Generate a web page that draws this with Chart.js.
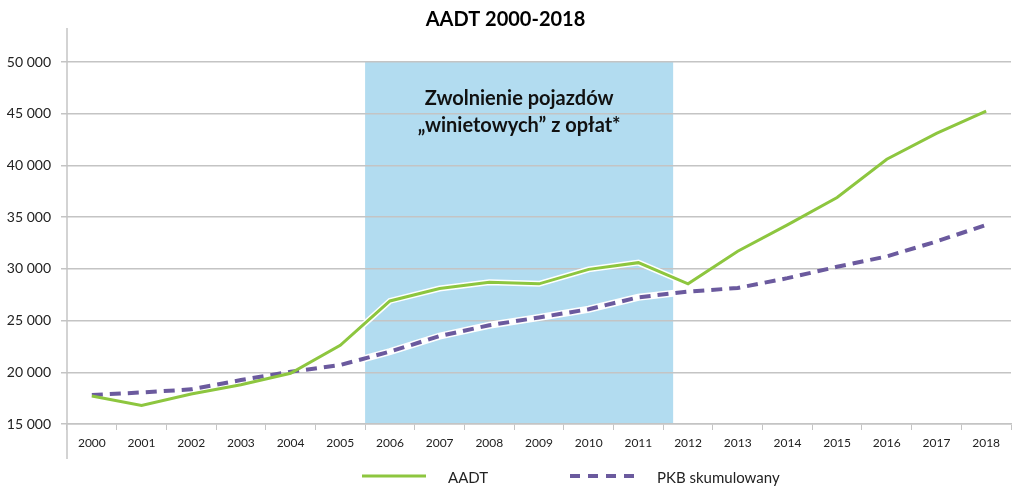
<!DOCTYPE html>
<html>
<head>
<meta charset="utf-8">
<script src="https://cdn.jsdelivr.net/npm/chart.js@4"></script>
<style>
  html, body { margin: 0; padding: 0; background: #fff; }
  #wrap { position: relative; width: 1023px; height: 497px; }
  #legend { position: absolute; left: 0; top: 465px; width: 1023px; height: 24px; font-family: Lato, "Open Sans", sans-serif; font-size: 15px; color: #222; }
  .lg { position: absolute; top: 0; height: 24px; line-height: 24px; white-space: nowrap; }
  .lg svg { position: absolute; top: 0; }
</style>
</head>
<body>
<div id="wrap">
  <canvas id="c" width="1023" height="497"></canvas>
  <div id="legend"></div>
</div>
<script>
// ---- data ----
const years = ['2000','2001','2002','2003','2004','2005','2006','2007','2008','2009','2010','2011','2012','2013','2014','2015','2016','2017','2018'];
const aadt = [17700, 16800, 17900, 18800, 19900, 22600, 26900, 28100, 28700, 28550, 29950, 30600, 28550, 31700, 34250, 36900, 40600, 43100, 45250];
const pkb = [17800, 18050, 18350, 19250, 20050, 20700, 22000, 23500, 24550, 25300, 26100, 27250, 27800, 28150, 29100, 30200, 31200, 32650, 34250];
const yTicks = [15000, 20000, 25000, 30000, 35000, 40000, 45000, 50000];
const titleText = 'AADT 2000-2018';
const seriesNames = ['AADT', 'PKB skumulowany'];
const bandLines = ['Zwolnienie pojazdów', '\u201Ewinietowych\u201D z opłat*'];
const bandFrom = 5.5;   // category index (2006 left edge)
const bandTo = 11.7;    // category index (just past 2011)

// ---- styles ----
const GREEN = '#8dc63f';
const PURPLE = '#6b5a9e';
const BAND = '#b2dcf0';
const GRID = '#c4c4c4';
const TEXT = '#222';
const FONT = 'Lato, "Open Sans", sans-serif';
const DASH = [11, 7];

function fmt(v) {
  return String(v).replace(/\B(?=(\d{3})+(?!\d))/g, ' ');
}
function inBand(ctx) {
  return ctx.p0DataIndex >= 5 && ctx.p1DataIndex <= 12;
}

const bandPlugin = {
  id: 'band',
  beforeDraw(chart) {
    const {ctx, scales: {x, y}} = chart;
    const l = x.getPixelForValue(bandFrom);
    const r = x.getPixelForValue(bandTo);
    const t = y.getPixelForValue(yTicks[yTicks.length - 1]);
    const b = y.getPixelForValue(yTicks[0]);
    ctx.save();
    ctx.fillStyle = BAND;
    ctx.fillRect(l, t, r - l, b - t);
    ctx.restore();
  },
  beforeDatasetsDraw(chart) {
    const {ctx, scales: {x, y}} = chart;
    const cx = (x.getPixelForValue(bandFrom) + x.getPixelForValue(bandTo)) / 2;
    const t = y.getPixelForValue(yTicks[yTicks.length - 1]);
    ctx.save();
    ctx.fillStyle = '#111';
    ctx.font = 'bold 20px ' + FONT;
    ctx.textAlign = 'center';
    ctx.textBaseline = 'middle';
    bandLines.forEach((s, i) => ctx.fillText(s, cx, t + 37 + i * 27));
    ctx.restore();
  },
  afterDraw(chart) {
    const {ctx, chartArea} = chart;
    ctx.save();
    ctx.strokeStyle = GRID;
    ctx.lineWidth = 1.5;
    ctx.beginPath();
    ctx.moveTo(chartArea.left, 28);
    ctx.lineTo(chartArea.left, 459);
    ctx.stroke();
    ctx.restore();
  }
};

new Chart(document.getElementById('c'), {
  type: 'line',
  data: {
    labels: years,
    datasets: [
      { label: seriesNames[0], data: aadt, borderColor: GREEN, borderWidth: 3, pointRadius: 0, tension: 0, order: 0 },
      { label: seriesNames[1], data: pkb, borderColor: PURPLE, borderWidth: 4, borderDash: DASH, pointRadius: 0, tension: 0, order: 1 },
      { label: 'halo1', data: aadt, borderWidth: 6, pointRadius: 0, order: 2,
        segment: { borderColor: c => inBand(c) ? '#ffffff' : 'rgba(0,0,0,0)' } },
      { label: 'halo2', data: pkb, borderWidth: 7, pointRadius: 0, order: 3,
        segment: { borderColor: c => inBand(c) ? '#ffffff' : 'rgba(0,0,0,0)' } }
    ]
  },
  options: {
    responsive: false,
    animation: false,
    devicePixelRatio: 1,
    layout: { padding: { left: 0, right: 12, top: 0, bottom: 0 } },
    plugins: {
      legend: { display: false },
      tooltip: { enabled: false },
      title: {
        display: true, text: titleText, color: '#000',
        font: { family: FONT, size: 20, weight: 'bold', lineHeight: 1.2 },
        padding: { top: 8, bottom: 30 }
      }
    },
    scales: {
      x: {
        offset: true,
        grid: { offset: true, drawOnChartArea: false, color: GRID, tickLength: 6, lineWidth: 1 },
        border: { color: GRID, width: 1.5 },
        ticks: { color: TEXT, font: { family: FONT, size: 12 }, padding: 6, maxRotation: 0, autoSkip: false },
        afterFit(s) { s.height = 73; }
      },
      y: {
        min: yTicks[0], max: yTicks[yTicks.length - 1],
        afterBuildTicks(s) { s.ticks = yTicks.map(v => ({ value: v })); },
        grid: { color: GRID, tickLength: 6, lineWidth: 1.5 },
        border: { display: false },
        ticks: { color: TEXT, font: { family: FONT, size: 14 }, padding: 10, callback: v => fmt(v) },
        afterFit(s) { s.width = 67; }
      }
    }
  },
  plugins: [bandPlugin]
});

// ---- HTML legend ----
const lg = document.getElementById('legend');
const items = [
  { name: seriesNames[0], color: GREEN, width: 3, dash: '', lineX: 362, textX: 448 },
  { name: seriesNames[1], color: PURPLE, width: 4, dash: '10 8', lineX: 570, textX: 657 }
];
items.forEach(it => {
  const svgNS = 'http://www.w3.org/2000/svg';
  const svg = document.createElementNS(svgNS, 'svg');
  svg.setAttribute('width', '66'); svg.setAttribute('height', '24');
  svg.style.left = it.lineX + 'px';
  svg.style.position = 'absolute';
  const ln = document.createElementNS(svgNS, 'line');
  ln.setAttribute('x1', '0'); ln.setAttribute('x2', '64');
  ln.setAttribute('y1', '11'); ln.setAttribute('y2', '11');
  ln.setAttribute('stroke', it.color); ln.setAttribute('stroke-width', it.width);
  if (it.dash) ln.setAttribute('stroke-dasharray', it.dash);
  svg.appendChild(ln);
  lg.appendChild(svg);
  const sp = document.createElement('span');
  sp.className = 'lg';
  sp.style.left = it.textX + 'px';
  sp.textContent = it.name;
  lg.appendChild(sp);
});
</script>
</body>
</html>
